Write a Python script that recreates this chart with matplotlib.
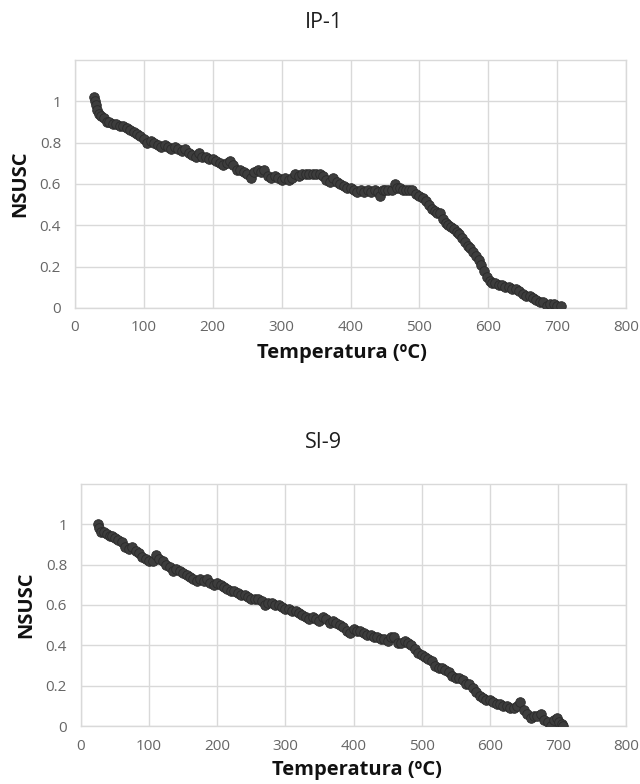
import matplotlib
matplotlib.use("Agg")
import matplotlib.pyplot as plt

plt.rcParams['font.family'] = ['Open Sans', 'DejaVu Sans']

# ---------------- data ----------------
ip1_temp = [28, 29, 30, 32, 35, 38, 42, 46, 50, 55, 60, 65, 70, 75, 80, 85, 90, 95,
            100, 105, 110, 115, 120, 125, 130, 135, 140, 145, 150, 155, 160, 165, 170,
            175, 180, 185, 190, 195, 200, 205, 210, 215, 220, 225, 230, 235, 240, 245,
            250, 255, 260, 265, 270, 275, 280, 285, 290, 295, 300, 305, 310, 315, 320,
            325, 330, 335, 340, 345, 350, 355, 360, 365, 370, 375, 380, 385, 390, 395,
            400, 405, 410, 415, 420, 425, 430, 435, 440, 443, 447, 450, 455, 460, 465,
            468, 472, 476, 480, 485, 490, 495, 500, 505, 510, 514, 518, 522, 526, 530,
            534, 538, 542, 546, 550, 554, 558, 562, 566, 570, 574, 578, 582, 586, 590,
            594, 598, 602, 606, 610, 615, 620, 625, 630, 635, 640, 645, 650, 655, 660,
            665, 670, 675, 680, 685, 690, 695, 700, 705]
ip1_nsusc = [1.02, 1.00, 0.98, 0.96, 0.94, 0.93, 0.92, 0.90, 0.90, 0.89, 0.89, 0.88,
             0.88, 0.87, 0.86, 0.85, 0.84, 0.83, 0.82, 0.80, 0.81, 0.80, 0.79, 0.78,
             0.79, 0.78, 0.77, 0.78, 0.77, 0.76, 0.77, 0.75, 0.74, 0.73, 0.75, 0.73,
             0.73, 0.72, 0.72, 0.71, 0.70, 0.69, 0.70, 0.71, 0.69, 0.67, 0.67, 0.66,
             0.65, 0.63, 0.66, 0.67, 0.66, 0.67, 0.64, 0.63, 0.64, 0.63, 0.62, 0.63,
             0.62, 0.63, 0.65, 0.64, 0.65, 0.65, 0.65, 0.65, 0.65, 0.65, 0.64, 0.62,
             0.61, 0.63, 0.61, 0.60, 0.59, 0.58, 0.58, 0.57, 0.56, 0.57, 0.56, 0.57,
             0.56, 0.57, 0.56, 0.54, 0.57, 0.57, 0.57, 0.57, 0.60, 0.58, 0.58, 0.57,
             0.57, 0.57, 0.57, 0.55, 0.54, 0.53, 0.52, 0.50, 0.48, 0.47, 0.46, 0.46,
             0.43, 0.41, 0.40, 0.39, 0.38, 0.37, 0.36, 0.34, 0.32, 0.30, 0.29, 0.27,
             0.25, 0.23, 0.21, 0.18, 0.15, 0.13, 0.12, 0.12, 0.11, 0.11, 0.10, 0.10,
             0.09, 0.09, 0.08, 0.07, 0.06, 0.06, 0.05, 0.04, 0.03, 0.03, 0.01, 0.02,
             0.02, 0.01, 0.01]

si9_temp = [25, 27, 30, 34, 38, 42, 46, 50, 55, 60, 65, 70, 75, 80, 85, 90, 95, 100,
            105, 110, 115, 120, 125, 130, 135, 140, 145, 150, 155, 160, 165, 170, 175,
            180, 185, 190, 195, 200, 205, 210, 215, 220, 225, 230, 235, 240, 245, 250,
            255, 260, 265, 270, 275, 280, 285, 290, 295, 300, 305, 310, 315, 320, 325,
            330, 335, 340, 345, 350, 355, 360, 365, 370, 375, 380, 385, 390, 395, 400,
            405, 410, 415, 420, 425, 430, 435, 440, 445, 450, 455, 460, 465, 470, 475,
            480, 485, 490, 495, 500, 505, 510, 515, 520, 525, 530, 535, 540, 545, 550,
            555, 560, 565, 570, 575, 580, 585, 590, 595, 600, 605, 610, 615, 620, 625,
            630, 635, 640, 645, 650, 655, 660, 665, 670, 675, 680, 685, 690, 695, 698,
            702, 706, 708]
si9_nsusc = [1.00, 0.98, 0.96, 0.96, 0.95, 0.94, 0.94, 0.93, 0.92, 0.91, 0.89, 0.88,
             0.89, 0.87, 0.86, 0.84, 0.83, 0.82, 0.82, 0.85, 0.83, 0.82, 0.80, 0.79,
             0.77, 0.78, 0.77, 0.76, 0.75, 0.74, 0.73, 0.72, 0.73, 0.72, 0.73, 0.71,
             0.70, 0.71, 0.70, 0.69, 0.68, 0.67, 0.67, 0.66, 0.65, 0.65, 0.64, 0.63,
             0.63, 0.63, 0.62, 0.60, 0.61, 0.61, 0.60, 0.60, 0.59, 0.58, 0.58, 0.57,
             0.57, 0.56, 0.55, 0.54, 0.53, 0.54, 0.53, 0.52, 0.54, 0.53, 0.51, 0.52,
             0.51, 0.50, 0.49, 0.47, 0.46, 0.48, 0.47, 0.47, 0.46, 0.45, 0.45, 0.44,
             0.44, 0.43, 0.43, 0.42, 0.44, 0.44, 0.41, 0.41, 0.42, 0.41, 0.40, 0.38,
             0.36, 0.35, 0.34, 0.33, 0.32, 0.30, 0.29, 0.29, 0.28, 0.27, 0.25, 0.24,
             0.24, 0.23, 0.21, 0.21, 0.19, 0.17, 0.15, 0.14, 0.13, 0.13, 0.12, 0.11,
             0.11, 0.10, 0.10, 0.09, 0.09, 0.10, 0.12, 0.08, 0.06, 0.04, 0.05, 0.05,
             0.06, 0.03, 0.02, 0.00, 0.03, 0.04, 0.02, 0.01, 0.00]

titles = ["IP-1", "SI-9"]
x_ticks = [0, 100, 200, 300, 400, 500, 600, 700, 800]
y_ticks = [0, 0.2, 0.4, 0.6, 0.8, 1.0]
y_tick_labels = ["0", "0.2", "0.4", "0.6", "0.8", "1"]
x_label = "Temperatura (ºC)"
y_label = "NSUSC"

# ---------------- figure ----------------
W, H = 640, 784
fig = plt.figure(figsize=(W / 100, H / 100), dpi=100)

# axes boxes in pixels: left, top, right, bottom
boxes = [(75, 60, 626, 308), (81, 484, 626, 726)]
title_pos = [(324, 22), (323, 443)]
xlabel_pos = [(342, 353), (357, 770)]
series = [(ip1_temp, ip1_nsusc), (si9_temp, si9_nsusc)]

grid_c = "#d9d9d9"
tick_c = "#666666"

for (l, t, r, b), (xs, ys), title, tp, xp in zip(boxes, series, titles, title_pos, xlabel_pos):
    ax = fig.add_axes([l / W, 1 - b / H, (r - l) / W, (b - t) / H])
    ax.set_xlim(0, 800)
    ax.set_ylim(0, 1.2)
    ax.set_xticks(x_ticks)
    ax.set_xticklabels([str(v) for v in x_ticks])
    ax.set_yticks(y_ticks)
    ax.set_yticklabels(y_tick_labels)
    ax.grid(True, color=grid_c, linewidth=1.0)
    ax.set_axisbelow(True)
    for sp in ax.spines.values():
        sp.set_color(grid_c)
        sp.set_linewidth(1.0)
    ax.tick_params(axis="x", length=0, labelsize=11, labelcolor=tick_c, pad=9)
    ax.tick_params(axis="y", length=0, labelsize=11, labelcolor=tick_c, pad=10)
    ax.scatter(xs, ys, s=48, color="#3d3d3d", edgecolors="#2a2a2a",
               linewidths=0.6, zorder=3)
    ax.set_ylabel(y_label, fontsize=14.5, fontweight="bold", color="#111111", labelpad=7)
    fig.text(xp[0] / W, 1 - xp[1] / H, x_label, ha="center", va="center",
             fontsize=14.5, fontweight="bold", color="#111111")
    fig.text(tp[0] / W, 1 - tp[1] / H, title, ha="center", va="center",
             fontsize=15.5, color="#1e1e1e")

fig.savefig("out.png", dpi=100, facecolor="white")
